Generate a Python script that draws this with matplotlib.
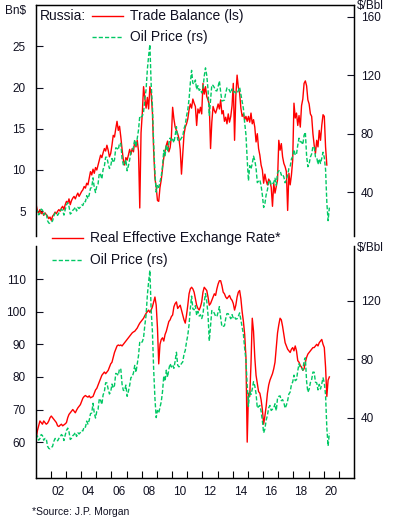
import numpy as np
import pandas as pd
import matplotlib
matplotlib.use("Agg")
import matplotlib.pyplot as plt
from matplotlib.lines import Line2D

plt.rcParams['font.family'] = ['Liberation Sans', 'DejaVu Sans']

# Monthly values, Jan 2001 onwards
oil_price = [
    25.6, 27.5, 24.5, 25.6, 28.4, 27.7, 24.5, 25.7, 25.6, 20.5, 18.9, 18.6,   # 2001
    19.4, 20.3, 23.7, 25.7, 25.4, 24.1, 25.7, 26.6, 28.4, 27.5, 24.3, 28.0,   # 2002
    31.2, 32.8, 30.3, 25.0, 25.8, 27.6, 28.4, 29.8, 27.1, 29.6, 28.8, 29.8,   # 2003
    31.2, 30.9, 33.8, 33.4, 37.6, 35.5, 38.2, 42.7, 43.2, 49.8, 43.1, 39.7,   # 2004
    44.3, 45.6, 53.1, 51.9, 49.0, 55.6, 57.9, 63.9, 63.8, 59.5, 56.2, 57.6,   # 2005
    63.0, 60.2, 62.1, 70.3, 70.0, 68.9, 73.7, 73.2, 62.8, 58.7, 58.5, 62.3,   # 2006
    54.6, 58.0, 62.1, 67.5, 67.9, 70.6, 75.8, 71.0, 77.0, 82.5, 92.1, 91.5,   # 2007
    91.9, 94.8, 103.3, 110.2, 123.9, 133.1, 141.0, 113.9, 99.1, 72.8, 53.2, 40.0,  # 2008
    44.9, 43.2, 47.0, 50.9, 57.9, 68.6, 64.9, 72.5, 67.7, 73.2, 77.0, 74.7,   # 2009
    76.2, 73.8, 78.8, 84.8, 75.9, 74.8, 75.6, 77.1, 78.2, 83.5, 86.1, 92.0,   # 2010
    96.5, 103.7, 114.6, 123.3, 114.5, 113.9, 116.7, 110.2, 112.8, 109.6, 110.5, 107.9,  # 2011
    110.7, 119.3, 125.0, 119.8, 110.3, 92.5, 102.6, 113.4, 113.0, 111.5, 109.5, 109.2,  # 2012
    112.3, 116.1, 108.5, 102.3, 102.6, 102.9, 107.9, 111.3, 111.2, 109.5, 107.8, 110.6,  # 2013
    108.1, 108.9, 107.5, 107.8, 109.5, 111.8, 106.8, 101.6, 97.1, 87.4, 79.4, 62.3,  # 2014
    47.8, 58.1, 55.9, 59.5, 64.6, 61.7, 56.5, 46.5, 47.6, 48.4, 44.3, 38.0,   # 2015
    29.5, 32.2, 38.2, 41.6, 46.7, 48.3, 44.9, 45.8, 46.6, 49.5, 44.7, 53.3,   # 2016
    54.6, 54.9, 51.6, 52.3, 50.3, 46.4, 48.5, 51.7, 56.2, 57.5, 62.7, 64.4,   # 2017
    69.1, 65.3, 66.0, 72.1, 76.9, 74.4, 74.3, 72.5, 78.9, 81.0, 64.8, 57.4,   # 2018
    59.4, 64.0, 66.1, 71.2, 71.1, 64.2, 63.9, 59.0, 62.8, 59.6, 63.2, 67.3,   # 2019
    63.7, 55.5, 33.0, 20.5, 29.4,                                             # 2020
]

trade_balance = [
    5.8, 5.0, 4.8, 5.2, 4.7, 4.9, 4.5, 4.8, 4.6, 4.4, 4.1, 4.3,               # 2001
    3.9, 4.4, 4.6, 4.9, 4.7, 5.0, 5.2, 5.0, 5.4, 5.6, 5.2, 5.8,               # 2002
    6.2, 6.0, 6.5, 5.8, 6.3, 6.6, 6.8, 6.5, 6.9, 7.2, 6.8, 7.1,               # 2003
    7.4, 7.6, 8.0, 7.8, 8.4, 8.2, 9.0, 9.8, 9.4, 10.1, 9.6, 10.3,             # 2004
    10.0, 10.6, 11.2, 11.8, 11.5, 12.1, 12.6, 12.3, 13.0, 12.4, 11.6, 12.0,   # 2005
    13.0, 14.2, 14.0, 15.0, 15.9, 14.8, 15.3, 14.0, 12.5, 11.2, 10.6, 11.5,   # 2006
    11.2, 11.8, 12.5, 11.9, 12.6, 12.2, 13.5, 12.8, 13.6, 12.3, 5.4, 14.5,    # 2007
    16.9, 20.1, 18.7, 17.5, 18.8, 17.4, 20.1, 19.3, 17.0, 12.3, 9.0, 7.9,     # 2008
    6.3, 6.2, 7.9, 8.8, 10.2, 11.5, 12.3, 13.0, 13.5, 12.2, 12.7, 14.0,       # 2009
    17.6, 16.2, 15.2, 14.8, 14.4, 13.8, 12.5, 9.5, 11.8, 14.3, 15.2, 15.6,    # 2010
    16.2, 17.3, 18.0, 17.5, 18.6, 18.1, 17.7, 15.4, 17.4, 16.9, 17.6, 16.8,   # 2011
    20.5, 19.2, 20.1, 18.9, 18.5, 17.9, 12.6, 15.8, 17.7, 17.2, 16.9, 17.4,   # 2012
    18.0, 17.4, 18.5, 16.8, 17.2, 15.9, 16.4, 15.6, 16.8, 15.8, 16.5, 17.8,   # 2013
    20.5, 13.6, 19.0, 21.5, 20.0, 19.3, 17.5, 16.5, 16.8, 16.1, 16.5, 15.9,   # 2014
    16.5, 15.8, 16.9, 15.6, 16.1, 15.2, 13.4, 14.4, 12.6, 11.8, 10.6, 10.0,   # 2015
    8.4, 9.5, 8.7, 8.2, 8.9, 8.6, 7.9, 5.6, 8.4, 7.2, 8.0, 8.8,               # 2016
    13.6, 12.4, 13.2, 11.6, 10.8, 10.4, 9.8, 5.1, 9.6, 8.2, 9.4, 11.2,        # 2017
    18.1, 16.3, 16.9, 15.4, 16.6, 15.2, 17.8, 18.6, 20.5, 20.8, 20.2, 18.5,   # 2018
    18.0, 16.8, 16.5, 14.4, 13.0, 12.0, 13.6, 12.8, 14.8, 13.6, 15.4, 16.7,   # 2019
    16.5, 12.8, 10.6,                                                         # 2020
]

reer = [
    61.0, 63.5, 65.0, 66.5, 66.0, 65.5, 66.5, 66.0, 65.5, 65.8, 66.5, 67.5,   # 2001
    68.0, 67.5, 67.0, 66.5, 66.0, 65.0, 64.8, 65.2, 65.5, 65.0, 65.3, 65.6,   # 2002
    66.0, 67.5, 68.5, 69.0, 69.5, 70.0, 69.5, 69.0, 69.8, 70.5, 71.0, 71.5,   # 2003
    72.5, 73.5, 74.0, 74.3, 74.0, 73.8, 74.2, 73.6, 73.8, 74.0, 75.0, 76.0,   # 2004
    76.5, 77.5, 78.5, 79.5, 80.5, 81.0, 81.5, 81.0, 81.5, 82.0, 83.0, 84.0,   # 2005
    84.5, 86.0, 87.5, 88.5, 89.5, 89.8, 89.6, 89.8, 89.5, 90.0, 90.5, 91.0,   # 2006
    91.5, 92.0, 92.5, 93.0, 93.5, 93.8, 94.0, 94.5, 95.0, 95.8, 96.5, 97.0,   # 2007
    97.5, 98.0, 98.8, 99.5, 100.0, 100.5, 99.8, 100.5, 101.5, 103.0, 104.5, 102.0,  # 2008
    95.0, 84.0, 90.0, 91.5, 92.0, 91.0, 93.0, 94.0, 95.5, 97.0, 97.5, 98.5,   # 2009
    99.0, 101.5, 102.5, 103.0, 101.0, 101.5, 102.0, 100.5, 99.0, 97.5, 96.5, 99.0,  # 2010
    102.0, 105.5, 107.0, 107.5, 107.0, 106.0, 104.0, 102.0, 101.0, 100.5, 101.5, 103.0,  # 2011
    106.0, 107.5, 107.0, 106.5, 104.5, 102.0, 102.5, 103.5, 104.5, 105.5, 105.0, 107.0,  # 2012
    108.5, 109.5, 109.5, 108.0, 106.0, 105.5, 104.5, 104.0, 104.5, 105.0, 104.0, 103.5,  # 2013
    102.5, 100.5, 102.0, 104.5, 106.0, 106.5, 104.0, 100.0, 97.0, 93.0, 86.0, 60.0,  # 2014
    75.0, 74.0, 84.0, 98.0, 94.0, 86.0, 80.5, 78.0, 75.5, 75.0, 73.0, 70.0,   # 2015
    65.5, 68.0, 71.0, 75.0, 77.5, 79.0, 80.0, 81.0, 82.5, 84.5, 89.0, 93.5,   # 2016
    96.0, 98.0, 97.5, 95.5, 93.0, 90.5, 89.5, 88.5, 88.0, 87.5, 88.5, 89.0,   # 2017
    88.0, 89.5, 88.0, 85.0, 84.5, 83.5, 83.0, 82.0, 82.5, 84.5, 86.0, 87.0,   # 2018
    87.5, 88.0, 88.5, 89.0, 89.0, 89.5, 90.0, 89.5, 90.5, 91.0, 91.5, 90.0,   # 2019
    89.0, 83.0, 74.0, 79.0, 80.0,                                             # 2020
]

year_labels = ['02', '04', '06', '08', '10', '12', '14', '16', '18', '20']

months = pd.date_range('2001-01-01', periods=len(oil_price), freq='MS')
t_all = np.asarray(months.year + (months.month - 0.5) / 12.0)

RED = '#FF0000'
GREEN = '#00C864'
DASH = (0, (3, 1.5))
INK = '#111122'

W, H = 395, 522
fig = plt.figure(figsize=(W / 100, H / 100), dpi=100)


def box(l, t, r, b):
    return [l / W, 1 - b / H, (r - l) / W, (b - t) / H]


def fx(x):
    return x / W


def fy(y):
    return 1 - y / H


def style_axes(ax, side):
    ax.set_xlim(2001, 2022)
    ax.tick_params(axis='y', direction='in', length=5, width=0.8,
                   labelsize=8.5, colors=INK)
    for s in ax.spines.values():
        s.set_linewidth(0.9)
    if side == 'top':
        ax.spines['bottom'].set_visible(False)
        ax.set_xticks([])
    else:
        ax.spines['top'].set_visible(False)


# ---- top panel: trade balance vs oil ----
ax1 = fig.add_axes(box(35.5, 5, 354, 236))
ax1.plot(t_all[:len(trade_balance)], trade_balance, color=RED, lw=1.0)
ax1.set_ylim(2, 30)
ax1.set_yticks([5, 10, 15, 20, 25])
style_axes(ax1, 'top')
ax1.tick_params(axis='y', pad=7)

ax1r = ax1.twinx()
ax1r.plot(t_all, oil_price, color=GREEN, lw=1.0, linestyle=DASH)
ax1r.set_ylim(10, 168)
ax1r.set_yticks([40, 80, 120, 160])
style_axes(ax1r, 'top')
ax1r.tick_params(axis='y', pad=5)

# ---- bottom panel: REER vs oil ----
ax2 = fig.add_axes(box(35.5, 246.5, 354, 478))
ax2.plot(t_all[:len(reer)], reer, color=RED, lw=1.0)
ax2.set_ylim(49, 120)
ax2.set_yticks([60, 70, 80, 90, 100, 110])
style_axes(ax2, 'bottom')
ax2.tick_params(axis='y', pad=7)
ax2.set_xticks(np.arange(2002, 2022))
ax2.set_xticklabels([])
ax2.set_xticks(np.arange(2002.5, 2021, 2), minor=True)
ax2.set_xticklabels(year_labels, minor=True)
ax2.tick_params(axis='x', which='major', direction='in', length=5, width=0.8)
ax2.tick_params(axis='x', which='minor', length=0, pad=6,
                labelsize=8.5, colors=INK)

ax2r = ax2.twinx()
ax2r.plot(t_all, oil_price, color=GREEN, lw=1.0, linestyle=DASH)
ax2r.set_ylim(-1.4, 157.3)
ax2r.set_yticks([40, 80, 120])
style_axes(ax2r, 'bottom')
ax2r.tick_params(axis='y', pad=5)

# ---- unit labels ----
fig.text(fx(5), fy(11), 'Bn$', fontsize=8.5, color=INK, va='center', ha='left')
fig.text(fx(357), fy(6), '$/Bbl', fontsize=8.5, color=INK, va='center', ha='left')
fig.text(fx(357), fy(248), '$/Bbl', fontsize=8.5, color=INK, va='center', ha='left')


# ---- legends ----
def legend_row(x0, x1, y, color, ls, label):
    fig.add_artist(Line2D([fx(x0), fx(x1)], [fy(y), fy(y)], color=color,
                          lw=1.0, linestyle=ls, transform=fig.transFigure))
    fig.text(fx(x1 + 7), fy(y), label, fontsize=10, color=INK,
             va='center', ha='left')


fig.text(fx(40), fy(15.5), 'Russia:', fontsize=10, color=INK, va='center', ha='left')
legend_row(92, 123, 16, RED, '-', 'Trade Balance (ls)')
legend_row(92, 123, 37, GREEN, DASH, 'Oil Price (rs)')
legend_row(52, 83, 238, RED, '-', 'Real Effective Exchange Rate*')
legend_row(52, 83, 260, GREEN, DASH, 'Oil Price (rs)')

fig.text(fx(32), fy(512), '*Source: J.P. Morgan', fontsize=7.5, color=INK,
         va='center', ha='left')

fig.savefig('out.png', dpi=100)
